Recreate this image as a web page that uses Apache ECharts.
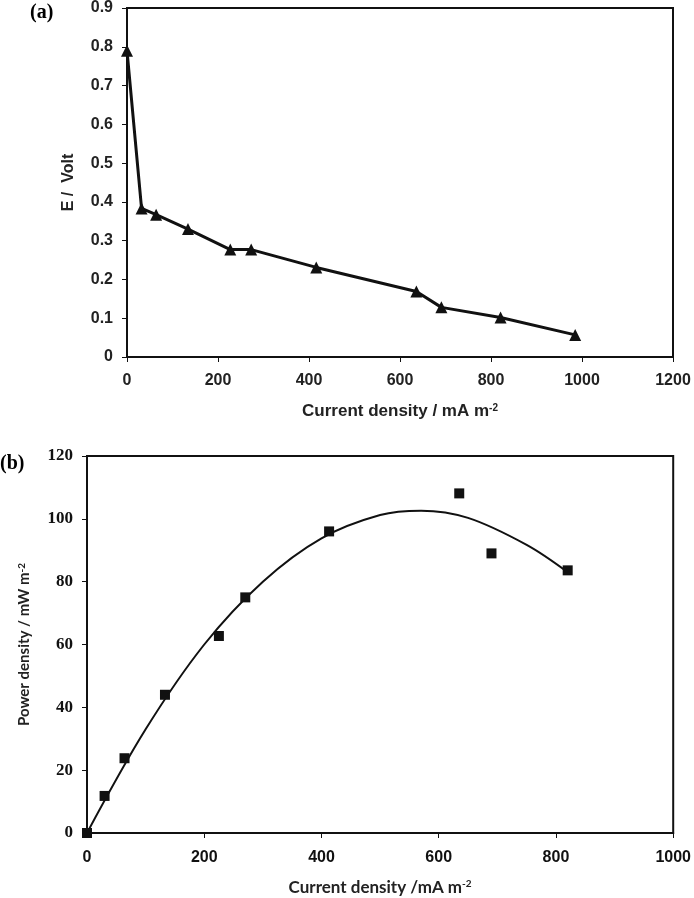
<!DOCTYPE html>
<html><head><meta charset="utf-8">
<script src="https://cdn.jsdelivr.net/npm/echarts@6/dist/echarts.min.js"></script>
<style>html,body{margin:0;padding:0;background:#fff}#c{width:694px;height:898px}</style>
</head><body><div id="c"></div>
<script>
// Panel (a): polarization curve
const currentA = [0, 32, 64, 134, 227, 273, 416, 636, 691, 821, 985];
const voltA = [0.79, 0.383, 0.367, 0.33, 0.277, 0.277, 0.231, 0.169, 0.128, 0.102, 0.057];
const yTicksA = [0, 0.1, 0.2, 0.3, 0.4, 0.5, 0.6, 0.7, 0.8, 0.9];
const xTicksA = [0, 200, 400, 600, 800, 1000, 1200];
// Panel (b): power density
const currentB = [0, 30, 64, 133, 225, 270, 413, 635, 690, 820];
const powerB = [0, 11.8, 23.8, 44, 62.7, 75, 96, 108.1, 89, 83.6];
// Trend curve
const trendX = [0, 100, 200, 300, 400, 500, 570, 650, 750, 820];
const trendY = [0, 33, 60, 80, 93.8, 101.2, 102.6, 100.3, 91.7, 83];
const yTicksB = [0, 20, 40, 60, 80, 100, 120];
const xTicksB = [0, 200, 400, 600, 800, 1000];

const chart = echarts.init(document.getElementById('c'));
const supA = {sup:{fontSize:10, verticalAlign:'top', lineHeight:10, padding:[0,0,8,0], fontWeight:'bold', fontFamily:'Liberation Sans', color:'#222'}};
const supB = {sup:{fontSize:10, verticalAlign:'top', lineHeight:10, padding:[0,0,8,0], fontWeight:'bold', fontFamily:'Lato', color:'#222'}};
chart.setOption({
  animation:false,
  graphic:[
    {type:'text', left:30, top:3, style:{text:'(a)', font:'bold 20px "Liberation Serif"', fill:'#000'}},
    {type:'text', left:0, top:454, style:{text:'(b)', font:'bold 20px "Liberation Serif"', fill:'#000'}}
  ],
  grid:[
    {left:127, top:6, right:21, bottom:541, show:true, borderColor:'#111', borderWidth:2},
    {left:87, top:456, right:19, bottom:65, show:true, borderColor:'#111', borderWidth:2}
  ],
  xAxis:[
    {gridIndex:0, type:'value', min:xTicksA[0], max:xTicksA[xTicksA.length-1], interval:200,
     splitLine:{show:false}, axisLine:{lineStyle:{color:'#111', width:2}},
     axisTick:{show:true, length:5, lineStyle:{color:'#111'}},
     axisLabel:{fontFamily:'Liberation Sans', fontWeight:'bold', fontSize:16, color:'#222', margin:16, formatter:v=>String(v)},
     name:'Current density / mA m{sup|-2}', nameLocation:'middle', nameGap:46,
     nameTextStyle:{fontFamily:'Liberation Sans', fontWeight:'bold', fontSize:17, color:'#222', rich:supA}},
    {gridIndex:1, type:'value', min:xTicksB[0], max:xTicksB[xTicksB.length-1], interval:200,
     splitLine:{show:false}, axisLine:{lineStyle:{color:'#111', width:2}},
     axisTick:{show:true, length:5, lineStyle:{color:'#111'}},
     axisLabel:{fontFamily:'Liberation Sans', fontWeight:'bold', fontSize:16, color:'#111', margin:17, formatter:v=>String(v)},
     name:'Current density /mA m{sup|-2}', nameLocation:'middle', nameGap:46,
     nameTextStyle:{fontFamily:'Lato', fontWeight:'bold', fontSize:17, color:'#222', rich:supB}}
  ],
  yAxis:[
    {gridIndex:0, type:'value', min:0, max:0.9, interval:0.1,
     splitLine:{show:false}, axisLine:{lineStyle:{color:'#111', width:2}},
     axisTick:{show:true, length:5, lineStyle:{color:'#111'}},
     axisLabel:{fontFamily:'Liberation Sans', fontWeight:'bold', fontSize:16, color:'#222', margin:14,
       formatter:v=>v===0?'0':v.toFixed(1)},
     name:'E /  Volt', nameLocation:'middle', nameGap:50, nameRotate:90,
     nameTextStyle:{fontFamily:'Liberation Sans', fontWeight:'bold', fontSize:16, color:'#222'}},
    {gridIndex:1, type:'value', min:0, max:120, interval:20,
     splitLine:{show:false}, axisLine:{lineStyle:{color:'#111', width:2}},
     axisTick:{show:true, length:5, lineStyle:{color:'#111'}},
     axisLabel:{fontFamily:'Liberation Serif', fontWeight:'bold', fontSize:17, color:'#111', margin:14},
     name:'Power density / mW m{sup|-2}', nameLocation:'middle', nameGap:55, nameRotate:90,
     nameTextStyle:{fontFamily:'Lato', fontWeight:'bold', fontSize:15, color:'#222', rich:supB}}
  ],
  series:[
    {type:'line', xAxisIndex:0, yAxisIndex:0, data:currentA.map((x,i)=>[x,voltA[i]]),
     symbol:'triangle', symbolSize:12, lineStyle:{color:'#111', width:3}, itemStyle:{color:'#111', opacity:1}},
    {type:'line', xAxisIndex:1, yAxisIndex:1, data:trendX.map((x,i)=>[x,trendY[i]]),
     smooth:0.35, showSymbol:false, symbol:'none', lineStyle:{color:'#111', width:2}},
    {type:'scatter', xAxisIndex:1, yAxisIndex:1, data:currentB.map((x,i)=>[x,powerB[i]]),
     symbol:'rect', symbolSize:10, itemStyle:{color:'#111', opacity:1}}
  ]
});
</script></body></html>
